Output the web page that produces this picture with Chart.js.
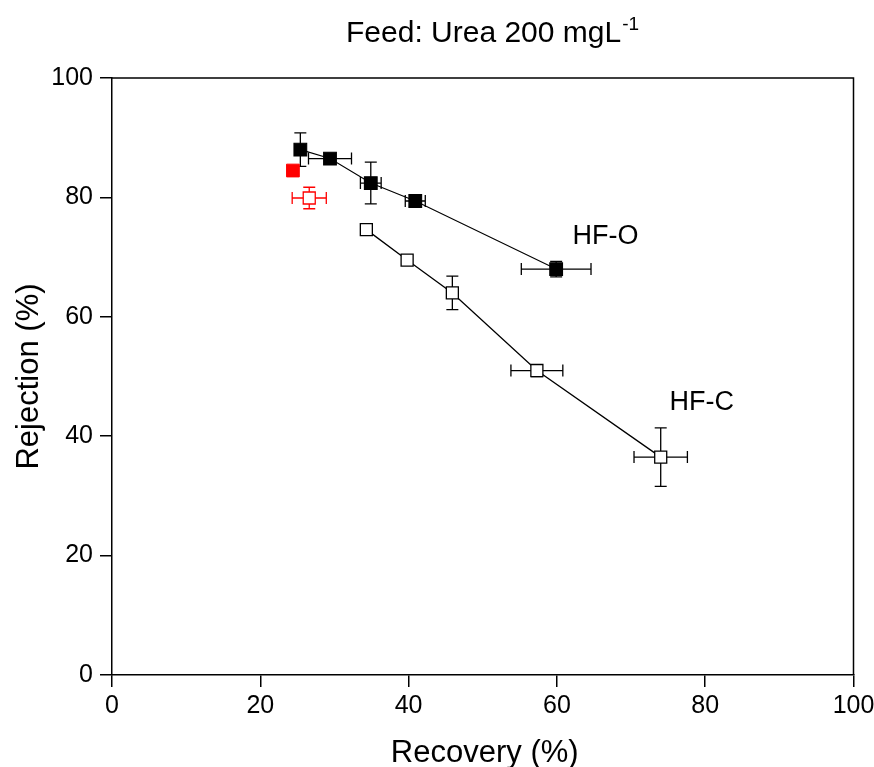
<!DOCTYPE html>
<html>
<head>
<meta charset="utf-8">
<script src="https://cdn.jsdelivr.net/npm/chart.js@4.4.1/dist/chart.umd.min.js"></script>
<style>
  html, body { margin: 0; padding: 0; background: #fff; }
  canvas { display: block; }
</style>
</head>
<body>
<canvas id="chart" width="874" height="767"></canvas>
<script>
// HF-O (filled squares)
const hfoX = [25.4, 29.4, 34.9, 40.9, 59.9];
const hfoY = [88.0, 86.5, 82.4, 79.4, 68.0];
const hfoErrX = [0, 2.9, 1.4, 1.35, 4.7];
const hfoErrY = [2.8, 0.6, 3.5, 0.7, 1.3];

// HF-C (open squares)
const hfcX = [34.3, 39.8, 45.9, 57.3, 74.0];
const hfcY = [74.6, 69.5, 64.0, 51.0, 36.5];
const hfcErrX = [0.6, 0.5, 0, 3.5, 3.6];
const hfcErrY = [0.6, 0.7, 2.8, 1.0, 4.9];

// red points
const redOpenX = [26.6];
const redOpenY = [79.9];
const redOpenErrX = [2.3];
const redOpenErrY = [1.8];
const redFillX = [24.4];
const redFillY = [84.5];

const xTicks = [0, 20, 40, 60, 80, 100];
const yTicks = [0, 20, 40, 60, 80, 100];

const FONT = 'Liberation Sans, Arial, sans-serif';

function pts(xs, ys) {
    return xs.map((x, i) => ({ x: x, y: ys[i] }));
}

// error bars, drawn under the markers
const errorBars = {
    id: 'errorBars',
    beforeDatasetsDraw(chart) {
        const ctx = chart.ctx;
        const xs = chart.scales.x;
        const ys = chart.scales.y;
        const cap = 6;
        chart.data.datasets.forEach(ds => {
            if (!ds.errX) return;
            ctx.save();
            ctx.strokeStyle = ds.errColor;
            ctx.lineWidth = 1.3;
            ds.data.forEach((p, i) => {
                const px = xs.getPixelForValue(p.x);
                const py = ys.getPixelForValue(p.y);
                const ex = ds.errX[i], ey = ds.errY[i];
                if (ex > 0) {
                    const l = xs.getPixelForValue(p.x - ex);
                    const r = xs.getPixelForValue(p.x + ex);
                    ctx.beginPath();
                    ctx.moveTo(l, py); ctx.lineTo(r, py);
                    ctx.moveTo(l, py - cap); ctx.lineTo(l, py + cap);
                    ctx.moveTo(r, py - cap); ctx.lineTo(r, py + cap);
                    ctx.stroke();
                }
                if (ey > 0) {
                    const t = ys.getPixelForValue(p.y + ey);
                    const b = ys.getPixelForValue(p.y - ey);
                    ctx.beginPath();
                    ctx.moveTo(px, t); ctx.lineTo(px, b);
                    ctx.moveTo(px - cap, t); ctx.lineTo(px + cap, t);
                    ctx.moveTo(px - cap, b); ctx.lineTo(px + cap, b);
                    ctx.stroke();
                }
            });
            ctx.restore();
        });
    }
};

// frame, titles and labels
const decorations = {
    id: 'decorations',
    afterDraw(chart) {
        const ctx = chart.ctx;
        const a = chart.chartArea;
        const xs = chart.scales.x;
        const ys = chart.scales.y;
        ctx.save();
        ctx.strokeStyle = '#000';
        ctx.lineWidth = 1.5;
        ctx.beginPath();
        ctx.moveTo(a.left, a.top); ctx.lineTo(a.right, a.top); ctx.lineTo(a.right, a.bottom);
        ctx.stroke();

        ctx.fillStyle = '#000';
        ctx.textBaseline = 'alphabetic';

        // title
        ctx.font = '30px ' + FONT;
        ctx.textAlign = 'left';
        const main = 'Feed: Urea 200 mgL';
        ctx.fillText(main, 346, 42);
        const w = ctx.measureText(main).width;
        ctx.font = '19px ' + FONT;
        ctx.fillText('-1', 346 + w + 1, 30);

        // axis titles
        ctx.font = '31px ' + FONT;
        ctx.textAlign = 'center';
        ctx.fillText('Recovery (%)', (a.left + a.right) / 2 + 2, 762);
        ctx.save();
        ctx.translate(38, (a.top + a.bottom) / 2);
        ctx.rotate(-Math.PI / 2);
        ctx.fillText('Rejection (%)', 0, 0);
        ctx.restore();

        // series labels
        ctx.font = '27px ' + FONT;
        ctx.textAlign = 'left';
        ctx.fillText('HF-O', xs.getPixelForValue(62.1), ys.getPixelForValue(72.2));
        ctx.fillText('HF-C', xs.getPixelForValue(75.2), ys.getPixelForValue(44.4));
        ctx.restore();
    }
};

new Chart(document.getElementById('chart'), {
    type: 'scatter',
    data: {
        datasets: [
            {
                label: 'red filled',
                data: pts(redFillX, redFillY),
                pointStyle: 'rect',
                pointRadius: 9,
                backgroundColor: '#ff0000',
                borderColor: '#ff0000',
                borderWidth: 1,
                showLine: false
            },
            {
                label: 'HF-O',
                data: pts(hfoX, hfoY),
                errX: hfoErrX, errY: hfoErrY, errColor: '#000',
                pointStyle: 'rect',
                pointRadius: 9,
                backgroundColor: '#000',
                borderColor: '#000',
                showLine: true,
                borderWidth: 1.1
            },
            {
                label: 'red open',
                data: pts(redOpenX, redOpenY),
                errX: redOpenErrX, errY: redOpenErrY, errColor: '#ff0000',
                pointStyle: 'rect',
                pointRadius: 8.5,
                backgroundColor: '#fff',
                borderColor: '#ff0000',
                borderWidth: 1.3,
                showLine: false
            },
            {
                label: 'HF-C',
                data: pts(hfcX, hfcY),
                errX: hfcErrX, errY: hfcErrY, errColor: '#000',
                pointStyle: 'rect',
                pointRadius: 8.5,
                backgroundColor: '#fff',
                borderColor: '#000',
                borderWidth: 1.3,
                showLine: true
            }
        ]
    },
    options: {
        responsive: false,
        animation: false,
        layout: { padding: { top: 78, right: 20.5, left: 0, bottom: 0 } },
        plugins: {
            legend: { display: false },
            tooltip: { enabled: false }
        },
        scales: {
            x: {
                type: 'linear',
                min: 0, max: 100,
                afterFit(scale) {
                    scale.height = 92;
                    scale.paddingLeft = 0;
                    scale.paddingRight = 0;
                },
                afterBuildTicks(scale) { scale.ticks = xTicks.map(v => ({ value: v })); },
                grid: { drawOnChartArea: false, drawTicks: true, tickLength: 12, color: '#000', lineWidth: 1.5 },
                border: { display: true, color: '#000', width: 1.5 },
                ticks: { color: '#000', font: { family: FONT, size: 25 }, padding: 4, maxRotation: 0 }
            },
            y: {
                type: 'linear',
                min: 0, max: 100,
                afterFit(scale) {
                    scale.width = 112;
                    scale.paddingTop = 0;
                    scale.paddingBottom = 0;
                },
                afterBuildTicks(scale) { scale.ticks = yTicks.map(v => ({ value: v })); },
                grid: { drawOnChartArea: false, drawTicks: true, tickLength: 12, color: '#000', lineWidth: 1.5 },
                border: { display: true, color: '#000', width: 1.5 },
                ticks: { color: '#000', font: { family: FONT, size: 25 }, padding: 7 }
            }
        }
    },
    plugins: [errorBars, decorations]
});
</script>
</body>
</html>
